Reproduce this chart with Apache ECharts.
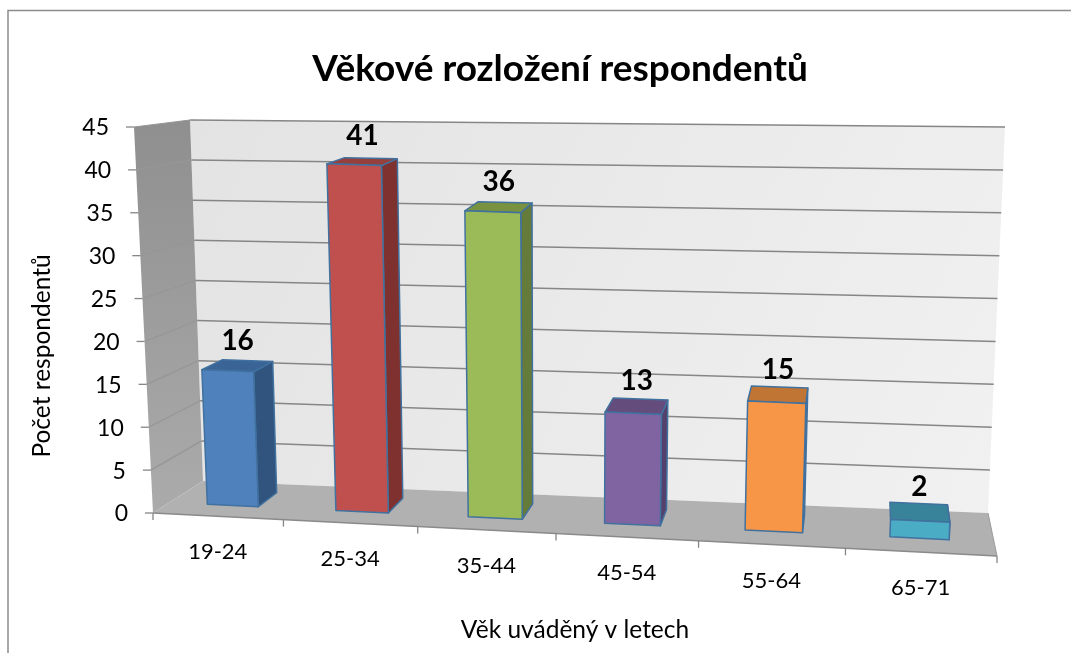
<!DOCTYPE html>
<html>
<head>
<meta charset="utf-8">
<style>html,body{margin:0;padding:0;background:#fff}#c{width:1071px;height:653px}</style>
<script src="https://cdn.jsdelivr.net/npm/echarts@6/dist/echarts.min.js"></script>
</head>
<body>
<div id="c"></div>
<script>
const titleText = 'Věkové rozložení respondentů';
const xAxisTitle = 'Věk uváděný v letech';
const yAxisTitle = 'Počet respondentů';
const categories = ['19-24', '25-34', '35-44', '45-54', '55-64', '65-71'];
const respondents = [16, 41, 36, 13, 15, 2];
const yTicks = [0, 5, 10, 15, 20, 25, 30, 35, 40, 45];

const faces = [
  { front: '#4F81BD', side: '#31547E', top: '#3A6496' },
  { front: '#C0504D', side: '#7F3130', top: '#96403D' },
  { front: '#9BBB59', side: '#647B39', top: '#78923F' },
  { front: '#8064A2', side: '#54406C', top: '#644C7C' },
  { front: '#F79646', side: '#A8652E', top: '#C07535' },
  { front: '#4BACC6', side: '#2F7288', top: '#388399' }
];
const FONT = 'Lato, "Open Sans", sans-serif';

// 3D view box as seen on screen: [front/back][bottom/top][left/right]
const box = {
  f0L: [153, 513], f1L: [134, 127], f0R: [997, 556], f1R: [1016, 163],
  b0L: [203, 481], b1L: [190, 120], b0R: [988, 513], b1R: [1005, 127]
};
const K = 0.086;     // horizontal perspective of the category scale
const D0 = 0.33, D1 = 0.75, BAR = 0.4;
const lerp = (a, b, t) => a + (b - a) * t;
const lerp2 = (a, b, t) => [lerp(a[0], b[0], t), lerp(a[1], b[1], t)];

function project(nx, nv, d) {
  const s = nx * (1 - K) / (1 - K * nx);
  const f = lerp2(lerp2(box.f0L, box.f0R, s), lerp2(box.f1L, box.f1R, s), nv);
  const b = lerp2(lerp2(box.b0L, box.b0R, s), lerp2(box.b1L, box.b1R, s), nv);
  return lerp2(f, b, d);
}
// turns axis pixels given by the library into the view box's unit space
function unit(params, pt) {
  const c = params.coordSys;
  return [(pt[0] - c.x) / c.width, (c.y + c.height - pt[1]) / c.height];
}
const poly = (points, fill, stroke, lw) => ({
  type: 'polygon', shape: { points },
  style: { fill, stroke: stroke || 'none', lineWidth: lw || 0, lineJoin: 'round' }
});
const seg = (a, b, stroke, lw) => ({
  type: 'line', shape: { x1: a[0], y1: a[1], x2: b[0], y2: b[1] },
  style: { stroke, lineWidth: lw, fill: 'none' }
});
const txt = (text, x, y, size, weight, align) => ({
  type: 'text',
  style: { text, x, y, fill: '#000', font: `${weight} ${size}px ${FONT}`, align: align, verticalAlign: 'middle' }
});

function renderWalls(params, api) {
  const back = new echarts.graphic.LinearGradient(0, 0, 1, 1, [
    { offset: 0, color: '#E3E3E3' }, { offset: 1, color: '#F1F1F1' }
  ]);
  const left = new echarts.graphic.LinearGradient(0, 0, 0, 1, [
    { offset: 0, color: '#8F8F8F' }, { offset: 1, color: '#ABABAB' }
  ]);
  return { type: 'group', children: [
    poly([box.b0L, box.b1L, box.b1R, box.b0R], back),
    poly([box.f0L, box.f1L, box.b1L, box.b0L], left),
    poly([box.f0L, box.f0R, box.b0R, box.b0L], '#B1B1B1'),
    seg(box.f0L, box.f0R, '#8A8A8A', 1.5),
    seg(box.f0R, box.b0R, '#9A9A9A', 1)
  ]};
}
function renderGrid(params, api) {
  const v = api.value(1);
  const nv = unit(params, api.coord([0, v]))[1];
  const a = project(0, nv, 0), b = project(0, nv, 1), c = project(1, nv, 1);
  const kids = [
    seg([a[0] - 8, a[1]], a, '#868686', 1.3),
    txt(String(v), a[0] - 25, a[1] + 1, 23, 'normal', 'right')
  ];
  if (v > 0) {
    kids.push(seg(a, b, '#969696', 1.2), seg(b, c, '#868686', 1.5));
  }
  return { type: 'group', children: kids };
}
function renderCategory(params, api) {
  const i = api.value(0);
  const n = unit(params, api.coord([i, 0]));
  const half = unit(params, [api.coord([i, 0])[0] + api.size([1, 0])[0] / 2, 0])[0] - n[0];
  const l = project(n[0] - half, 0, 0), m = project(n[0], 0, 0), r = project(n[0] + half, 0, 0);
  const kids = [
    seg(l, [l[0], l[1] + 7], '#868686', 1.3),
    txt(categories[i], m[0], m[1] + 36, 22, 'normal', 'center')
  ];
  if (i === categories.length - 1) kids.push(seg(r, [r[0], r[1] + 7], '#868686', 1.3));
  return { type: 'group', children: kids };
}
function renderBar(params, api) {
  const i = api.value(0), v = api.value(1);
  const top = unit(params, api.coord([i, v]));
  const w = unit(params, [api.coord([i, v])[0] + api.size([1, 0])[0] * BAR / 2, 0])[0] - top[0];
  const x0 = top[0] - w, x1 = top[0] + w, h = top[1];
  const col = faces[i], edge = '#41719F';
  const A = project(x0, 0, D0), B = project(x1, 0, D0), C = project(x1, h, D0), E = project(x0, h, D0);
  const F = project(x1, 0, D1), G = project(x1, h, D1), H = project(x0, h, D1);
  const L = project(top[0], h, (D0 + D1) / 2);
  return { type: 'group', children: [
    poly([B, F, G, C], col.side, edge, 1.5),
    poly([E, C, G, H], col.top, edge, 1.5),
    poly([A, B, C, E], col.front, edge, 1.5),
    txt(String(v), L[0], L[1] - 25, 28, 'bold', 'center')
  ]};
}

const custom = (name, data, renderItem, z) => ({
  type: 'custom', name, data, renderItem, z, silent: true,
  encode: { x: 0, y: 1 }, animation: false
});

const chart = echarts.init(document.getElementById('c'), null, { renderer: 'canvas' });
chart.setOption({
  backgroundColor: '#fff',
  animation: false,
  title: {
    text: titleText, left: 555, top: 64, textAlign: 'center', textVerticalAlign: 'middle',
    textStyle: { fontFamily: FONT, fontWeight: 'bold', fontSize: 37, color: '#000' }
  },
  grid: { left: 153, width: 844, top: 199, height: 314, containLabel: false },
  xAxis: {
    type: 'category', data: categories,
    name: xAxisTitle, nameLocation: 'middle', nameGap: 105,
    nameTextStyle: { fontFamily: FONT, fontSize: 24.5, color: '#000' },
    axisLine: { show: false }, axisTick: { show: false }, axisLabel: { show: false }, splitLine: { show: false }
  },
  yAxis: {
    type: 'value', min: 0, max: 45, interval: 5,
    name: yAxisTitle, nameLocation: 'middle', nameGap: 98,
    nameTextStyle: { fontFamily: FONT, fontSize: 24.5, color: '#000' },
    axisLine: { show: false }, axisTick: { show: false }, axisLabel: { show: false }, splitLine: { show: false }
  },
  graphic: [{
    type: 'rect', z: -10, silent: true,
    shape: { x: 8, y: 10.5, width: 1300, height: 900 },
    style: { fill: '#fff', stroke: '#8C8C8C', lineWidth: 1.5 }
  }],
  series: [
    custom('Stěny', [[0, 0]], renderWalls, 1),
    custom('Mřížka', yTicks.map(t => [0, t]), renderGrid, 2),
    custom('Kategorie', categories.map((c, i) => [i, 0]), renderCategory, 3),
    custom(yAxisTitle, respondents.map((v, i) => [i, v]), renderBar, 4)
  ]
});
</script>
</body>
</html>
